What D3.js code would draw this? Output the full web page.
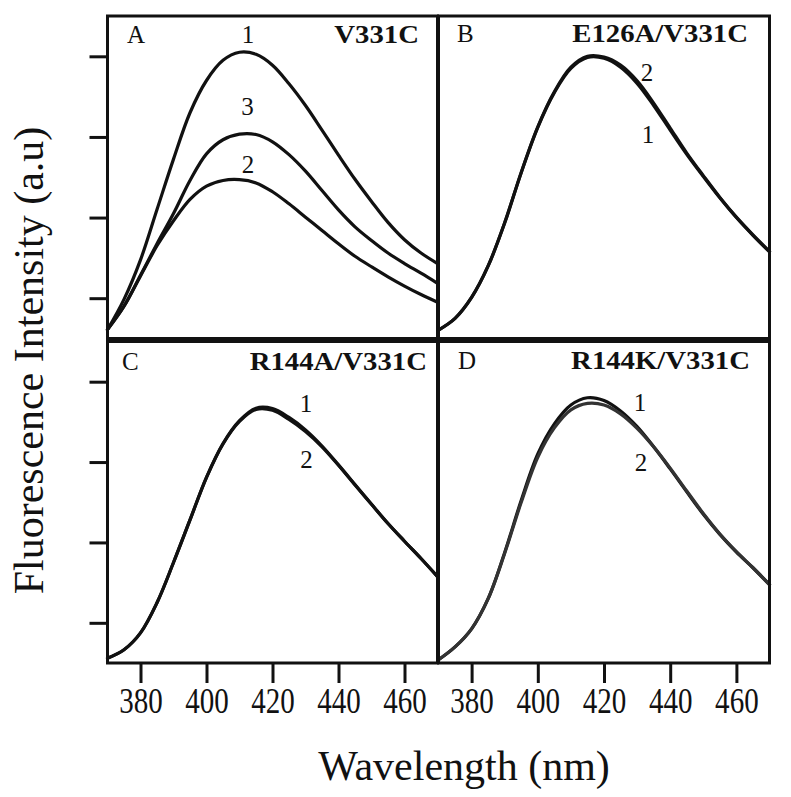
<!DOCTYPE html>
<html>
<head>
<meta charset="utf-8">
<script src="https://cdn.jsdelivr.net/npm/d3@7"></script>
<style>
  html, body { margin: 0; padding: 0; background: #fff; }
  svg { display: block; }
  text { font-family: "Liberation Serif", "Times New Roman", serif; fill: #111; }
</style>
</head>
<body>
<svg id="chart" width="791" height="797"></svg>
<script>
// ---- data ----
const wavelengths = [370,375,380,385,390,395,400,405,410,415,420,425,430,435,440,445,450,455,460,465,470];

const seriesA1 = [0.22,0.97,1.95,3.20,4.45,5.60,6.40,6.90,7.10,7.05,6.78,6.32,5.78,5.17,4.55,3.95,3.40,2.88,2.45,2.12,1.86];
const seriesA2 = [0.22,0.80,1.55,2.30,2.92,3.45,3.78,3.92,3.94,3.86,3.64,3.34,3.01,2.68,2.35,2.04,1.78,1.53,1.30,1.09,0.90];
const seriesA3 = [0.22,0.80,1.57,2.35,3.10,3.92,4.58,4.93,5.07,5.06,4.88,4.56,4.15,3.67,3.19,2.77,2.43,2.12,1.86,1.62,1.37];

const seriesB1 = [0.21,0.50,1.02,1.80,2.87,4.12,5.24,6.10,6.70,6.97,6.95,6.73,6.33,5.78,5.17,4.57,4.02,3.49,3.00,2.56,2.15];
const seriesB2 = [0.21,0.50,1.02,1.80,2.87,4.12,5.25,6.12,6.73,7.00,6.98,6.78,6.39,5.84,5.22,4.60,4.04,3.50,3.01,2.57,2.16];

const seriesC1 = [0.12,0.33,0.75,1.50,2.50,3.56,4.62,5.46,6.03,6.34,6.33,6.11,5.80,5.40,4.93,4.44,3.95,3.47,3.03,2.60,2.15];
const seriesC2 = [0.12,0.33,0.75,1.50,2.50,3.56,4.62,5.45,6.01,6.31,6.29,6.06,5.76,5.38,4.92,4.43,3.95,3.47,3.03,2.60,2.15];

const seriesD1 = [0.08,0.40,0.85,1.60,2.75,4.05,5.20,5.95,6.42,6.60,6.53,6.27,5.88,5.38,4.83,4.26,3.70,3.20,2.76,2.37,1.95];
const seriesD2 = [0.08,0.40,0.85,1.60,2.73,4.00,5.12,5.85,6.30,6.46,6.42,6.20,5.84,5.38,4.85,4.28,3.72,3.21,2.77,2.37,1.95];

const panelLetters = ["A","B","C","D"];
const panelTitles = ["V331C","E126A/V331C","R144A/V331C","R144K/V331C"];
const curveLabelsA = ["1","2","3"];
const curveLabelsB = ["1","2"];
const curveLabelsC = ["1","2"];
const curveLabelsD = ["1","2"];

const xTicks = [380,400,420,440,460];
const yTicks = [1,3,5,7];
const xDomain = [370,470];
const yDomain = [0,8];

const xTitle = "Wavelength (nm)";
const yTitle = "Fluorescence Intensity (a.u)";

// ---- layout ----
const svg = d3.select("#chart");
const colRanges = [[107.5, 437.5],[438.5, 769.5]];
const rowRanges = [[338.5, 16],[663, 341.5]];

const panels = [
  {col:0,row:0, series:[seriesA1,seriesA2,seriesA3], labels:curveLabelsA,
   labelPos:[[248,43],[248,173],[247.5,115]], titleX:419, titleY:43, letterX:127, letterY:43},
  {col:1,row:0, series:[seriesB1,seriesB2], labels:curveLabelsB,
   labelPos:[[648,143],[647,81]], titleX:748, titleY:42, letterX:457, letterY:42},
  {col:0,row:1, series:[seriesC1,seriesC2], labels:curveLabelsC,
   labelPos:[[306,412],[306.5,468]], titleX:427, titleY:370, letterX:122, letterY:370},
  {col:1,row:1, series:[seriesD1,seriesD2], labels:curveLabelsD,
   labelPos:[[640,411],[641,471]], titleX:750, titleY:369, letterX:458, letterY:369}
];

panels.forEach((p, i) => {
  const x = d3.scaleLinear().domain(xDomain).range(colRanges[p.col]);
  const y = d3.scaleLinear().domain(yDomain).range(rowRanges[p.row]);
  const g = svg.append("g");

  const line = d3.line()
    .x((d, k) => x(wavelengths[k]))
    .y(d => y(d))
    .curve(d3.curveCatmullRom.alpha(0.5));

  p.series.forEach((s, k) => {
    g.append("path")
      .datum(s)
      .attr("d", line)
      .attr("fill", "none")
      .attr("stroke", k === 1 && p.col === 1 && p.row === 1 ? "#333" : "#111")
      .attr("stroke-width", 3.2)
      .attr("stroke-linejoin", "round")
      .attr("stroke-linecap", "round");
  });

  // frame
  g.append("rect")
    .attr("x", x.range()[0]).attr("y", y.range()[1])
    .attr("width", x.range()[1] - x.range()[0])
    .attr("height", y.range()[0] - y.range()[1])
    .attr("fill", "none").attr("stroke", "#111").attr("stroke-width", 3);

  // left axis ticks on left column
  if (p.col === 0) {
    const ax = g.append("g")
      .attr("transform", `translate(${x.range()[0]},0)`)
      .call(d3.axisLeft(y).tickValues(yTicks).tickSize(18).tickFormat(""));
    ax.select(".domain").remove();
    ax.selectAll(".tick line").attr("stroke", "#111").attr("stroke-width", 3);
  }
  // bottom axis on bottom row
  if (p.row === 1) {
    const ax = g.append("g")
      .attr("transform", `translate(0,${y.range()[0]})`)
      .call(d3.axisBottom(x).tickValues(xTicks).tickSize(20).tickFormat(d3.format("d")));
    ax.select(".domain").remove();
    ax.selectAll(".tick line").attr("stroke", "#111").attr("stroke-width", 3);
    ax.selectAll(".tick text")
      .attr("y", 50).attr("dy", 0)
      .attr("transform", "scale(0.83,1)")
      .attr("font-family", "Liberation Serif, serif")
      .attr("font-size", 35)
      .attr("fill", "#111");
  }

  // panel letter
  g.append("text")
    .attr("x", p.letterX).attr("y", p.letterY)
    .attr("font-size", 25)
    .text(panelLetters[i]);

  // bold title (stretched horizontally)
  g.append("text")
    .attr("transform", `translate(${p.titleX},${p.titleY}) scale(1.15,1)`)
    .attr("text-anchor", "end")
    .attr("font-size", 25)
    .attr("font-weight", "bold")
    .text(panelTitles[i]);

  // curve labels
  p.labels.forEach((lab, k) => {
    g.append("text")
      .attr("x", p.labelPos[k][0]).attr("y", p.labelPos[k][1])
      .attr("text-anchor", "middle")
      .attr("font-size", 25)
      .text(lab);
  });
});

// axis titles
svg.append("text")
  .attr("x", 464).attr("y", 780)
  .attr("text-anchor", "middle")
  .attr("font-size", 42)
  .text(xTitle);

svg.append("text")
  .attr("transform", "translate(43,360.5) rotate(-90)")
  .attr("text-anchor", "middle")
  .attr("font-size", 42)
  .text(yTitle);
</script>
</body>
</html>
